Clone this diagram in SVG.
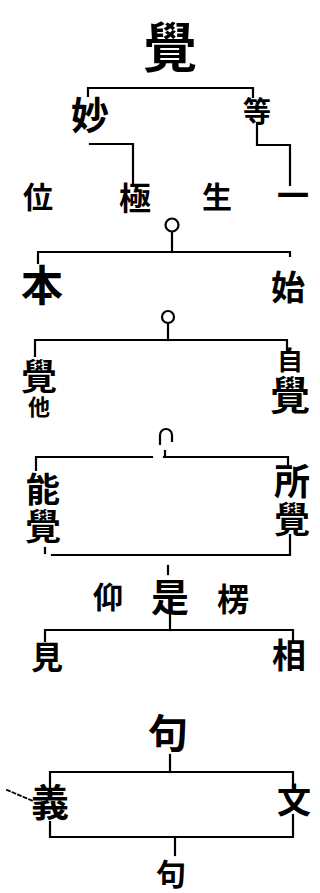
<svg xmlns="http://www.w3.org/2000/svg" width="320" height="893" viewBox="0 0 320 893">
<style>
.t{font-family:"Noto Sans CJK JP","Noto Sans CJK TC",sans-serif;font-weight:700;fill:#000;text-anchor:middle;dominant-baseline:central}
.v{font-family:"Noto Sans CJK JP","Noto Sans CJK TC",sans-serif;font-weight:700;fill:#000;text-anchor:start;writing-mode:vertical-rl;letter-spacing:2px}
.c{fill:none;stroke:#000;stroke-width:2.2;stroke-linecap:square;stroke-linejoin:miter}
</style>
<rect width="320" height="893" fill="#fff"/>
<g id="connectors" class="c">
<path d="M88,96 V88 H253 V97"/>
<path d="M90,144 H133 V183"/>
<path d="M257,123 V145 H290 V185"/>
<circle cx="172" cy="225" r="6.5"/>
<path d="M172,232 V252"/>
<path d="M38,263 V252 H290 V256"/>
<circle cx="168" cy="317" r="6"/>
<path d="M168,323 V340"/>
<path d="M35,356 V340 H287 V350"/>
<path d="M160,444 V435 A6,6 0 0 1 172,435 V441"/>
<path d="M165,451 V457"/>
<path d="M152,457 H36 V470"/>
<path d="M164,457 H288 V467"/>
<path d="M45,548 V553"/>
<path d="M52,555 H290 V535"/>
<path d="M168,566 V574"/>
<path d="M170,613 V630"/>
<path d="M45,641 V630 H293 V640"/>
<path d="M170,755 V772"/>
<path d="M50,790 V772 H293 V787"/>
<path d="M50,822 V837 H293 V815"/>
<path d="M175,838 V855"/>
<path d="M7,790 L33,801" stroke-dasharray="3,3" stroke-width="1.8"/>
</g>
<g id="n-kaku"><text class="t" x="170" y="44" font-size="54">覺</text></g>
<g id="n-myo"><text class="t" x="90" y="112" font-size="38">妙</text></g>
<g id="n-to"><text class="t" x="257" y="110" font-size="28">等</text></g>
<g id="n-i"><text class="t" x="38" y="195" font-size="30">位</text></g>
<g id="n-goku"><text class="t" x="135" y="196" font-size="32">極</text></g>
<g id="n-sho"><text class="t" x="217" y="195" font-size="30">生</text></g>
<g id="n-ichi"><text class="t" x="293" y="193" font-size="32">一</text></g>
<g id="n-hon"><text class="t" x="42" y="282" font-size="42">本</text></g>
<g id="n-shi"><text class="t" x="288" y="285" font-size="34">始</text></g>
<g id="n-kakuta"><text class="v" x="39" y="358"><tspan font-size="36">覺</tspan><tspan font-size="22">他</tspan></text></g>
<g id="n-jikaku"><text class="v" x="290" y="347"><tspan font-size="26">自</tspan><tspan font-size="40">覺</tspan></text></g>
<g id="n-nokaku"><text class="v" x="43" y="472"><tspan font-size="34">能</tspan><tspan font-size="36">覺</tspan></text></g>
<g id="n-shokaku"><text class="v" x="292" y="463" font-size="36">所覺</text></g>
<g id="n-gyo"><text class="t" x="108" y="595" font-size="30">仰</text></g>
<g id="n-ze"><text class="t" x="170" y="594" font-size="38">是</text></g>
<g id="n-ryo"><text class="t" x="233" y="597" font-size="32">楞</text></g>
<g id="n-ken"><text class="t" x="47" y="655" font-size="32">見</text></g>
<g id="n-so"><text class="t" x="289" y="653" font-size="34">相</text></g>
<g id="n-ku1"><text class="t" x="168" y="731" font-size="40">句</text></g>
<g id="n-gi"><text class="t" x="50" y="799" font-size="38">義</text></g>
<g id="n-bun"><text class="t" x="294" y="798" font-size="34">文</text></g>
<g id="n-ku2"><text class="t" x="171" y="872" font-size="30">句</text></g>
</svg>
